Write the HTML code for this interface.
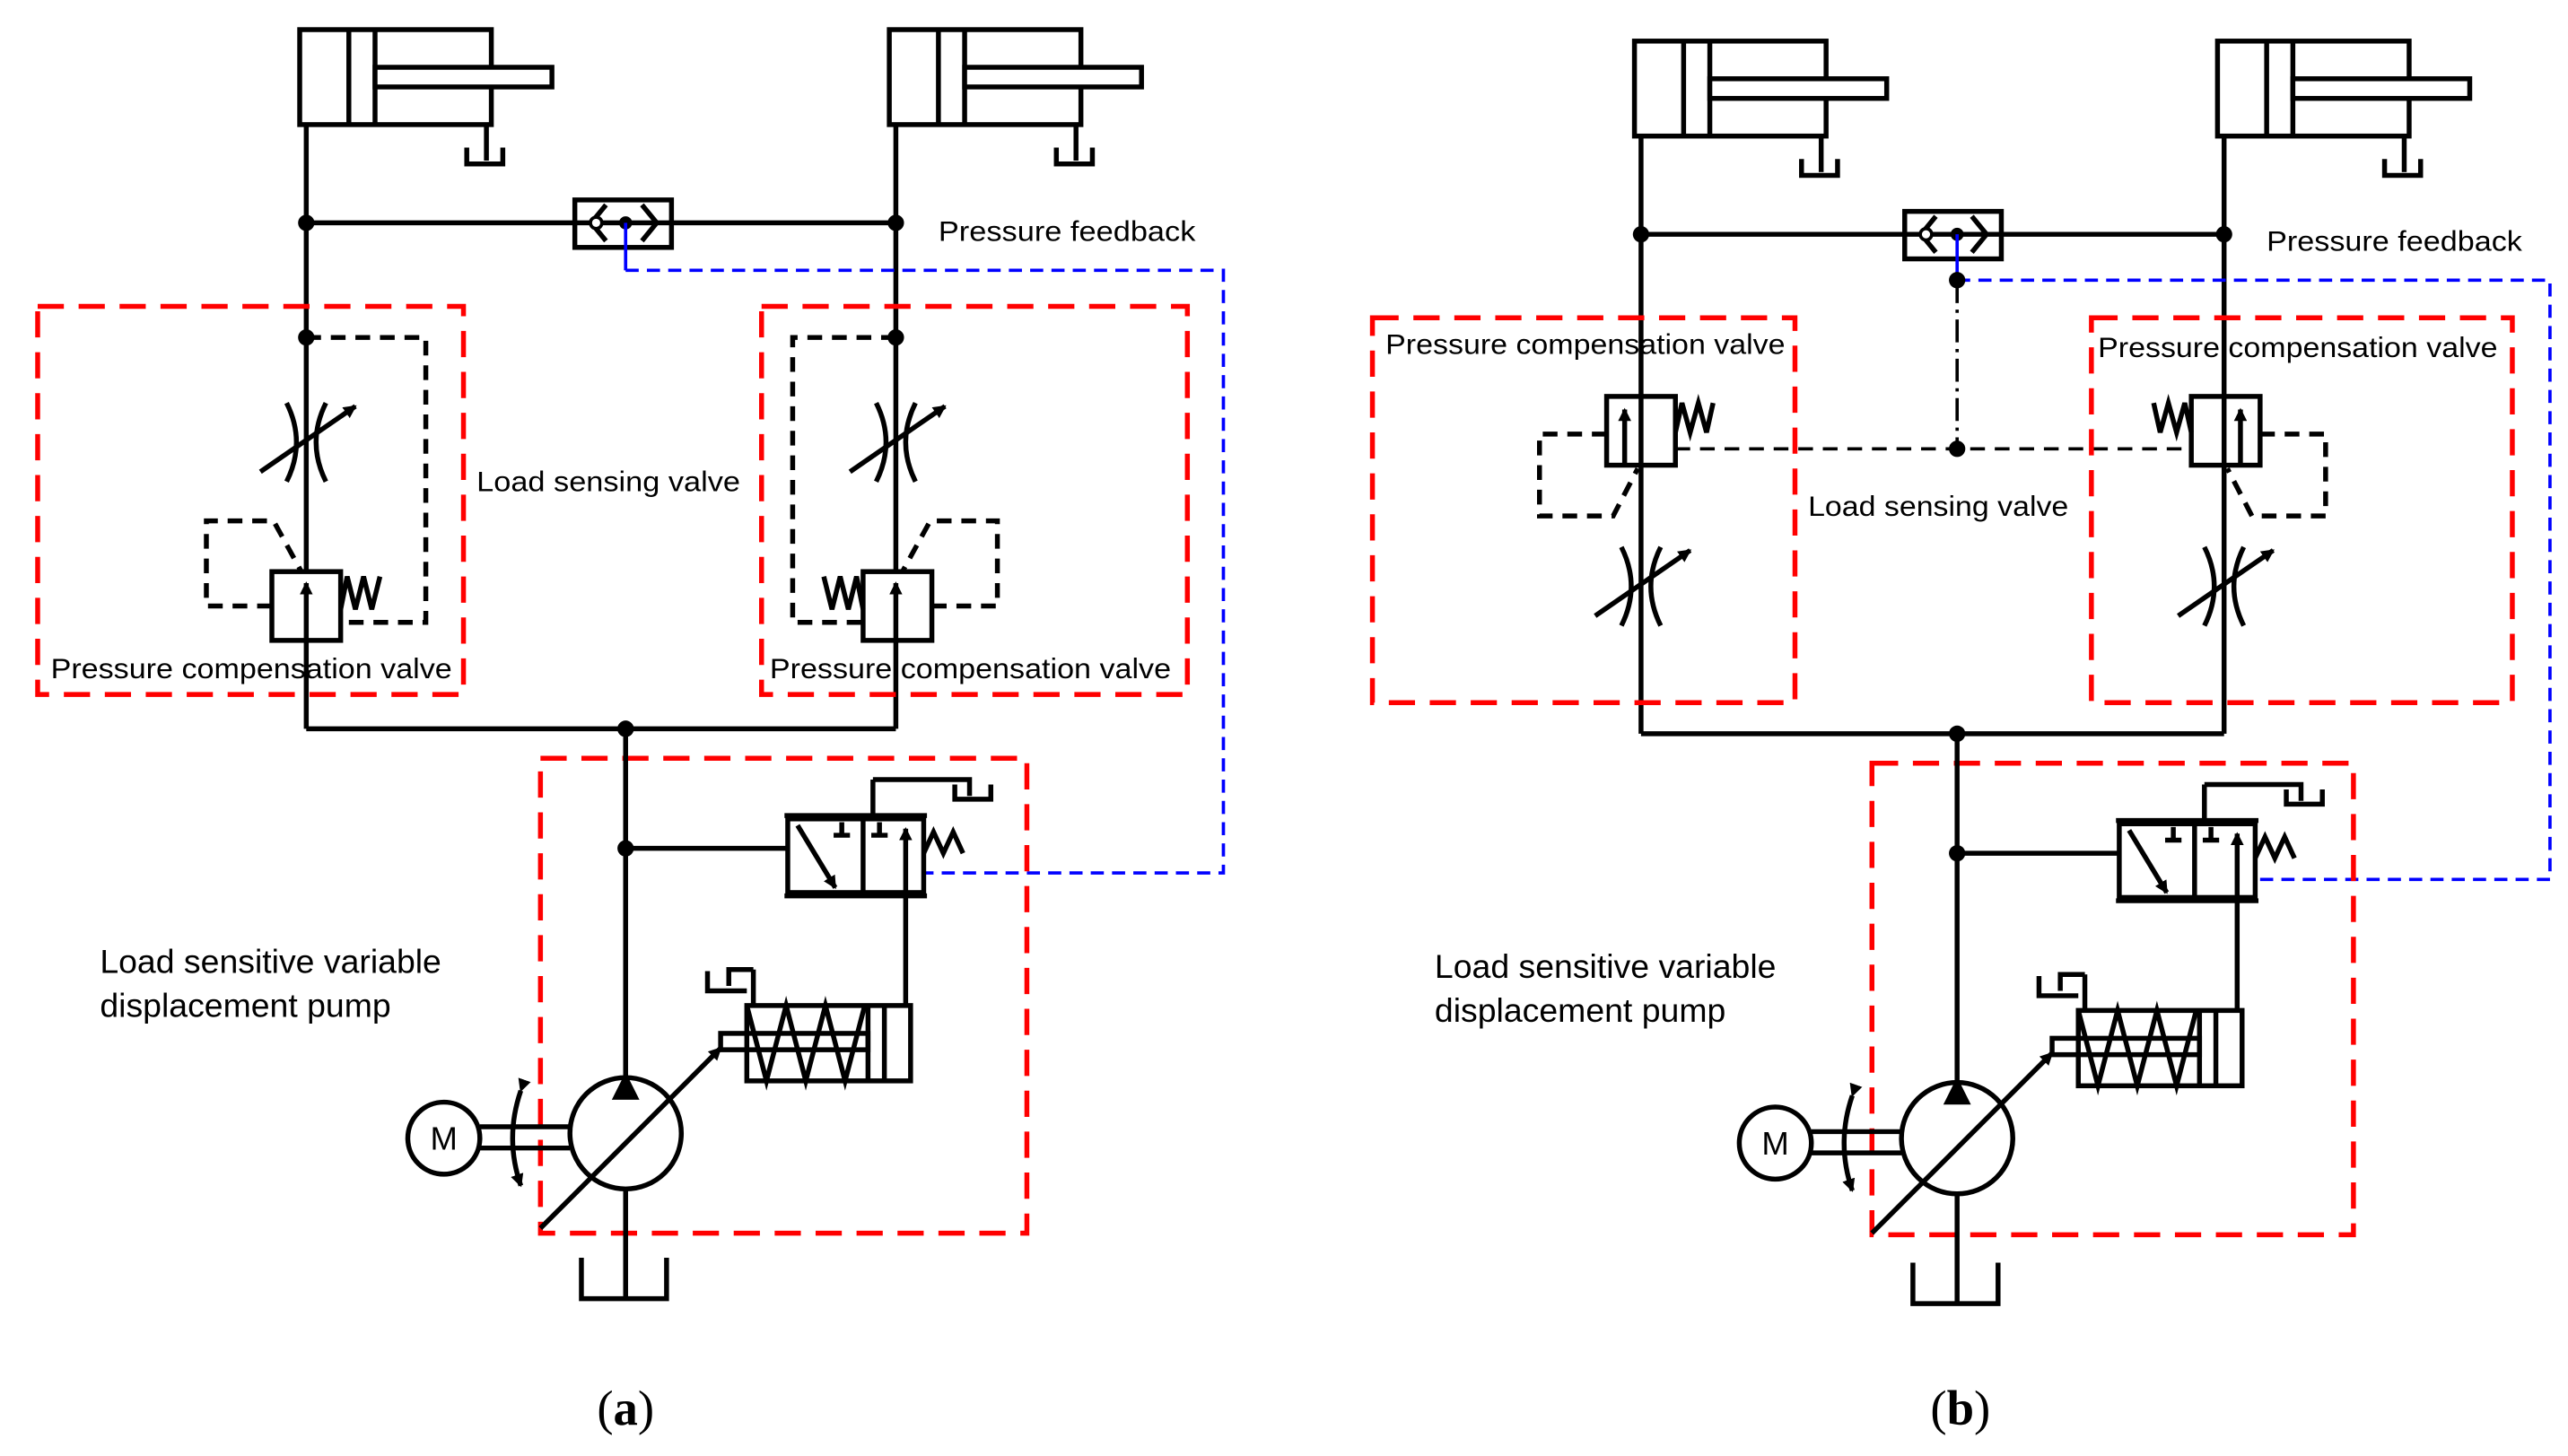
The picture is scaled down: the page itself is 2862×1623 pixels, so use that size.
<!DOCTYPE html>
<html><head><meta charset="utf-8"><style>
html,body{margin:0;padding:0;background:#fff;}
svg{display:block;}
text{font-family:"Liberation Sans",sans-serif;fill:#000;}
</style></head><body>
<svg width="2862" height="1623" viewBox="0 0 1568 889" xmlns="http://www.w3.org/2000/svg">
<defs>
<marker id="ah" markerWidth="8" markerHeight="8" refX="7" refY="4" orient="auto" markerUnits="userSpaceOnUse"><path d="M0,0 L8,4 L0,8 z" fill="#000"/></marker>
<g id="cyl" fill="none" stroke="#000" stroke-width="3">
<rect x="0" y="0" width="117" height="58"/>
<line x1="30" y1="0" x2="30" y2="58"/>
<line x1="46" y1="0" x2="46" y2="58"/>
<rect x="46" y="23" width="108" height="12" fill="#fff"/>
<line x1="114" y1="58" x2="114" y2="80"/>
<path d="M102,72 V82 H124 V72"/>
</g>
<g id="thr" fill="none" stroke="#000" stroke-width="3">
<path d="M-12,-24 Q0,0 -12,24"/>
<path d="M12,-24 Q0,0 12,24"/>
<line x1="-28" y1="18" x2="30" y2="-22" marker-end="url(#ah)"/>
</g>
<g id="pump" fill="none" stroke="#000" stroke-width="3">
<line x1="382" y1="445" x2="382" y2="658"/>
<line x1="382" y1="518" x2="481" y2="518"/>
<circle cx="382" cy="518" r="5" fill="#000" stroke="none"/>
<circle cx="382" cy="445" r="5" fill="#000" stroke="none"/>
<rect x="481" y="500" width="83" height="45"/>
<line x1="479" y1="498" x2="566" y2="498"/>
<line x1="479" y1="547" x2="566" y2="547"/>
<line x1="527" y1="500" x2="527" y2="545"/>
<line x1="487" y1="504" x2="510" y2="542" marker-end="url(#ah)"/>
<path d="M509,510 H519 M514,510 V502"/>
<path d="M532,510 H542 M537,510 V502"/>
<line x1="533" y1="498" x2="533" y2="476"/>
<path d="M533,476 H592 V486"/>
<path d="M583,479 V488 H605 V479"/>
<line x1="553" y1="545" x2="553" y2="506" marker-end="url(#ah)"/>
<line x1="553" y1="545" x2="553" y2="614"/>
<path d="M564,521 L570,508 L576,521 L582,508 L588,521"/>
<rect x="456" y="614" width="100" height="46"/>
<line x1="530" y1="614" x2="530" y2="660"/>
<line x1="540" y1="614" x2="540" y2="660"/>
<rect x="440" y="631" width="90" height="10"/>
<path d="M456,614 L468,660 L480,614 L492,660 L504,614 L516,660 L528,614"/>
<line x1="460" y1="614" x2="460" y2="592"/>
<path d="M460,592 H445 V602 M432,593 V605 H456"/>
<circle cx="382" cy="692" r="34"/>
<path d="M376,670 L382,658 L388,670 z" fill="#000"/>
<line x1="330" y1="750" x2="440" y2="640" marker-end="url(#ah)"/>
<line x1="382" y1="726" x2="382" y2="793"/>
<path d="M355,768 V793 H407 V768"/>
<circle cx="271" cy="695" r="22"/>
<line x1="293" y1="688" x2="348" y2="688"/>
<line x1="293" y1="701" x2="348" y2="701"/>
<path d="M318,666 Q308,695 318,724" marker-start="url(#ah)" marker-end="url(#ah)"/>
</g>
</defs>

<!-- ===== Panel (a) ===== -->
<use href="#cyl" x="183" y="18"/>
<use href="#cyl" x="543" y="18"/>
<g fill="none" stroke="#000" stroke-width="3">
<line x1="187" y1="76" x2="187" y2="445"/>
<line x1="547" y1="76" x2="547" y2="445"/>
<line x1="187" y1="136" x2="547" y2="136"/>
<line x1="187" y1="445" x2="547" y2="445"/>
<rect x="351" y="122" width="59" height="29" fill="#fff"/>
<line x1="351" y1="136" x2="410" y2="136"/>
<path d="M370,125 L361,136 L370,147"/>
<path d="M392,125 L401,136 L392,147"/>
<circle cx="364" cy="136" r="3.5" fill="#fff" stroke-width="2"/>
</g>
<circle cx="187" cy="136" r="5"/><circle cx="547" cy="136" r="5"/><circle cx="382" cy="136" r="4"/>
<line x1="382" y1="136" x2="382" y2="165" stroke="#00f" stroke-width="2"/>
<path d="M382,165 H747 V533 H564" fill="none" stroke="#00f" stroke-width="2" stroke-dasharray="8,5"/>
<text x="573" y="147" font-size="17" textLength="157" lengthAdjust="spacingAndGlyphs">Pressure feedback</text>

<rect x="23" y="187" width="260" height="237" fill="none" stroke="#f00" stroke-width="3" stroke-dasharray="16,9"/>
<rect x="465" y="187" width="260" height="237" fill="none" stroke="#f00" stroke-width="3" stroke-dasharray="16,9"/>
<circle cx="187" cy="206" r="5"/><circle cx="547" cy="206" r="5"/>
<g fill="none" stroke="#000" stroke-width="3" stroke-dasharray="9,6">
<path d="M187,206 H260 V380 H208"/>
<path d="M547,206 H484 V380 H527"/>
<path d="M166,370 H126 V318 H167 L184,349"/>
<path d="M569,370 H609 V318 H568 L551,349"/>
</g>
<use href="#thr" x="187" y="270"/>
<use href="#thr" x="547" y="270"/>
<g fill="none" stroke="#000" stroke-width="3">
<rect x="166" y="349" width="42" height="42" fill="#fff"/>
<line x1="187" y1="391" x2="187" y2="356" marker-end="url(#ah)"/>
<path d="M208,372 L212,352 L217,372 L222,352 L227,372 L232,352"/>
<rect x="527" y="349" width="42" height="42" fill="#fff"/>
<line x1="547" y1="391" x2="547" y2="356" marker-end="url(#ah)"/>
<path d="M527,372 L523,352 L518,372 L513,352 L508,372 L503,352"/>
</g>
<text x="291" y="300" font-size="17" textLength="161" lengthAdjust="spacingAndGlyphs">Load sensing valve</text>
<text x="31" y="414" font-size="17" textLength="245" lengthAdjust="spacingAndGlyphs">Pressure compensation valve</text>
<text x="470" y="414" font-size="17" textLength="245" lengthAdjust="spacingAndGlyphs">Pressure compensation valve</text>
<circle cx="382" cy="445" r="5"/>

<rect x="330" y="463" width="297" height="290" fill="none" stroke="#f00" stroke-width="3" stroke-dasharray="16,9"/>
<use href="#pump"/>
<text x="271" y="702" font-size="20" text-anchor="middle">M</text>
<text x="61" y="594" font-size="20.5">Load sensitive variable</text>
<text x="61" y="621" font-size="20.5">displacement pump</text>
<text x="382" y="870" font-size="30" text-anchor="middle" style="font-family:'Liberation Serif',serif">(<tspan font-weight="bold">a</tspan>)</text>

<!-- ===== Panel (b) ===== -->
<use href="#cyl" x="998" y="25"/>
<use href="#cyl" x="1354" y="25"/>
<g fill="none" stroke="#000" stroke-width="3">
<line x1="1002" y1="83" x2="1002" y2="448"/>
<line x1="1358" y1="83" x2="1358" y2="448"/>
<line x1="1002" y1="143" x2="1358" y2="143"/>
<line x1="1002" y1="448" x2="1358" y2="448"/>
<rect x="1163" y="129" width="59" height="29" fill="#fff"/>
<line x1="1163" y1="143" x2="1222" y2="143"/>
<path d="M1182,132 L1173,143 L1182,154"/>
<path d="M1204,132 L1213,143 L1204,154"/>
<circle cx="1176" cy="143" r="3.5" fill="#fff" stroke-width="2"/>
</g>
<circle cx="1002" cy="143" r="5"/><circle cx="1358" cy="143" r="5"/><circle cx="1195" cy="143" r="4"/>
<line x1="1195" y1="143" x2="1195" y2="171" stroke="#00f" stroke-width="2"/>
<path d="M1195,171 H1557 V537 H1377" fill="none" stroke="#00f" stroke-width="2" stroke-dasharray="8,5"/>
<circle cx="1195" cy="171" r="5"/>
<line x1="1195" y1="171" x2="1195" y2="274" stroke="#000" stroke-width="2" stroke-dasharray="14,4,2,4"/>
<line x1="1023" y1="274" x2="1338" y2="274" stroke="#000" stroke-width="2" stroke-dasharray="9,6"/>
<circle cx="1195" cy="274" r="5"/>
<text x="1384" y="153" font-size="17" textLength="156" lengthAdjust="spacingAndGlyphs">Pressure feedback</text>

<rect x="838" y="194" width="258" height="235" fill="none" stroke="#f00" stroke-width="3" stroke-dasharray="16,9"/>
<rect x="1277" y="194" width="257" height="235" fill="none" stroke="#f00" stroke-width="3" stroke-dasharray="16,9"/>
<g fill="none" stroke="#000" stroke-width="3" stroke-dasharray="9,6">
<path d="M981,265 H940 V315 H985 L1000,286"/>
<path d="M1380,265 H1420 V315 H1375 L1360,286"/>
</g>
<use href="#thr" x="1002" y="358"/>
<use href="#thr" x="1358" y="358"/>
<g fill="none" stroke="#000" stroke-width="3">
<rect x="981" y="242" width="42" height="42" fill="#fff"/>
<line x1="992" y1="284" x2="992" y2="250" marker-end="url(#ah)"/>
<line x1="1002" y1="242" x2="1002" y2="284"/>
<path d="M1023,264 L1027,246 L1032,264 L1037,246 L1042,264 L1046,246"/>
<rect x="1338" y="242" width="42" height="42" fill="#fff"/>
<line x1="1368" y1="284" x2="1368" y2="250" marker-end="url(#ah)"/>
<line x1="1358" y1="242" x2="1358" y2="284"/>
<path d="M1338,264 L1334,246 L1329,264 L1324,246 L1319,264 L1315,246"/>
</g>
<text x="846" y="216" font-size="17" textLength="244" lengthAdjust="spacingAndGlyphs">Pressure compensation valve</text>
<text x="1281" y="218" font-size="17" textLength="244" lengthAdjust="spacingAndGlyphs">Pressure compensation valve</text>
<text x="1104" y="315" font-size="17" textLength="159" lengthAdjust="spacingAndGlyphs">Load sensing valve</text>

<rect x="1143" y="466" width="294" height="288" fill="none" stroke="#f00" stroke-width="3" stroke-dasharray="16,9"/>
<use href="#pump" x="813" y="3"/>
<text x="1084" y="705" font-size="20" text-anchor="middle">M</text>
<text x="876" y="597" font-size="20.5">Load sensitive variable</text>
<text x="876" y="624" font-size="20.5">displacement pump</text>
<text x="1197" y="870" font-size="30" text-anchor="middle" style="font-family:'Liberation Serif',serif">(<tspan font-weight="bold">b</tspan>)</text>
</svg>
</body></html>
